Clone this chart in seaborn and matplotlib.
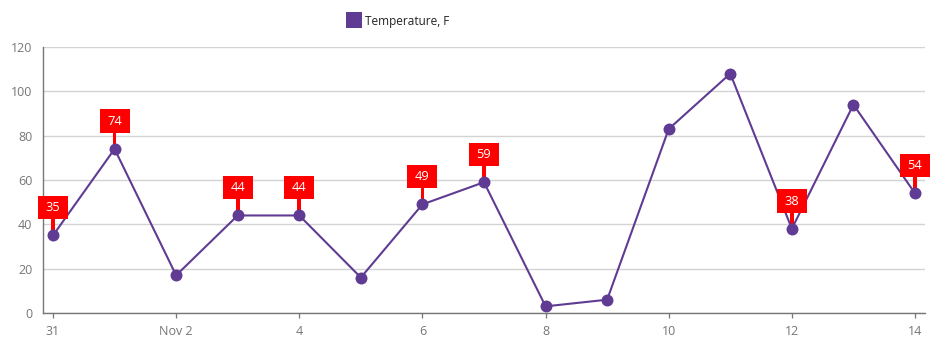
import matplotlib
matplotlib.use("Agg")
import matplotlib.pyplot as plt
import matplotlib.dates as mdates
import matplotlib.transforms as mtransforms
from matplotlib.patches import Rectangle
from matplotlib.lines import Line2D
import seaborn as sns
import pandas as pd

# ---- data ----
dates = ["2017-10-31", "2017-11-01", "2017-11-02", "2017-11-03", "2017-11-04",
         "2017-11-05", "2017-11-06", "2017-11-07", "2017-11-08", "2017-11-09",
         "2017-11-10", "2017-11-11", "2017-11-12", "2017-11-13", "2017-11-14"]
temperatures = [35, 74, 17, 44, 44, 16, 49, 59, 3, 6, 83, 108, 38, 94, 54]
tick_dates = ["2017-10-31", "2017-11-02", "2017-11-04", "2017-11-06",
              "2017-11-08", "2017-11-10", "2017-11-12", "2017-11-14"]
tick_labels = ["31", "Nov 2", "4", "6", "8", "10", "12", "14"]
y_ticks = [0, 20, 40, 60, 80, 100, 120]
series_name = "Temperature, F"
label_low, label_high = 20, 80   # points whose values get a label

# ---- styles ----
LINE_COLOR = "#5f3b93"
LABEL_COLOR = "#ff0000"
AXIS_COLOR = "#767676"
GRID_COLOR = "#d3d3d3"

sns.set_theme(style="white")
plt.rcParams['font.family'] = ['Open Sans', 'DejaVu Sans']

df = pd.DataFrame({"date": pd.to_datetime(dates), "temp": temperatures})

W, H = 945, 356
fig = plt.figure(figsize=(W / 100, H / 100), dpi=100)
ax = fig.add_axes([43 / W, 43 / H, (925 - 43) / W, (313 - 47) / H])

sns.lineplot(data=df, x="date", y="temp", ax=ax, color=LINE_COLOR, lw=1.5,
             marker="o", markersize=8.6, markeredgewidth=0, legend=False, zorder=2)

# axes limits / ticks
d0 = pd.Timestamp(dates[0]) - pd.Timedelta(hours=3.9)
d1 = pd.Timestamp(dates[-1]) + pd.Timedelta(hours=3.9)
ax.set_xlim(d0, d1)
ax.set_ylim(0, 120)
ax.set_yticks(y_ticks)
ax.set_xticks(pd.to_datetime(tick_dates))
ax.set_xticklabels(tick_labels)
ax.set_xlabel("")
ax.set_ylabel("")

ax.yaxis.grid(True, color=GRID_COLOR, lw=1)
ax.xaxis.grid(False)
ax.set_axisbelow(True)
for s in ["top", "right"]:
    ax.spines[s].set_visible(False)
for s in ["left", "bottom"]:
    ax.spines[s].set_color(AXIS_COLOR)
    ax.spines[s].set_linewidth(1)
ax.tick_params(axis="both", which="major", length=3.6, width=0.9, color=AXIS_COLOR,
               labelcolor=AXIS_COLOR, labelsize=9, direction="out")
ax.tick_params(axis="y", pad=4)
ax.tick_params(axis="x", pad=5, bottom=True)

# point labels (box + stem), sized in inches relative to data point
for d, v in zip(df["date"], df["temp"]):
    if label_low < v < label_high:
        xn = mdates.date2num(d)
        trans = fig.dpi_scale_trans + mtransforms.ScaledTranslation(xn, v, ax.transData)
        stem = Rectangle((-0.019, 0.0), 0.038, 0.17, transform=trans,
                         facecolor=LABEL_COLOR, edgecolor="none", zorder=1.5, clip_on=False)
        box = Rectangle((-0.15, 0.16), 0.30, 0.235, transform=trans,
                        facecolor=LABEL_COLOR, edgecolor="none", zorder=3, clip_on=False)
        ax.add_patch(stem)
        ax.add_patch(box)
        ax.text(0, 0.2775, str(v), transform=trans, ha="center", va="center",
                color="white", fontsize=9.3, zorder=4, clip_on=False)

# legend
handle = Line2D([], [], marker="s", ls="", color=LINE_COLOR, markersize=11,
                markeredgewidth=0)
leg = fig.legend(handles=[handle], labels=[series_name], loc="center",
                 bbox_to_anchor=(398 / W, 1 - 21 / H), frameon=False, fontsize=8.5,
                 handletextpad=0.3, handlelength=1.2, borderpad=0)
for t in leg.get_texts():
    t.set_color("#232323")

fig.savefig("out.png", dpi=100)
